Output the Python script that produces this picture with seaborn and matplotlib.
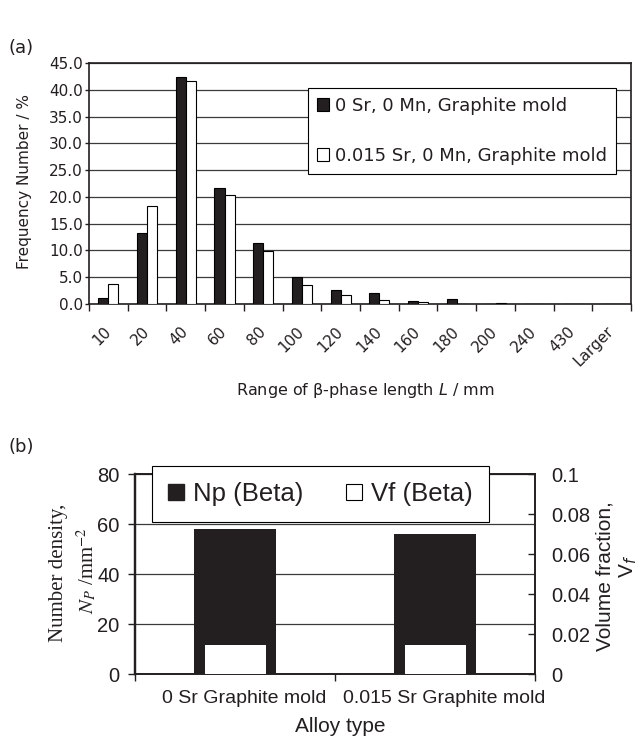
import matplotlib
matplotlib.use("Agg")
import matplotlib.pyplot as plt
import matplotlib.transforms as mtransforms
import numpy as np
import pandas as pd
import seaborn as sns
from matplotlib.patches import Patch


# (a) distribution of beta-phase length
RANGES = ["10", "20", "40", "60", "80", "100", "120", "140", "160", "180", "200", "240", "430", "Larger"]
FREQ_0SR = [1.1, 13.3, 42.4, 21.6, 11.4, 5.1, 2.6, 2.0, 0.5, 0.9, 0.0, 0.0, 0.0, 0.0]
FREQ_015SR = [3.8, 18.3, 41.7, 20.4, 9.9, 3.6, 1.7, 0.7, 0.4, 0.0, 0.2, 0.0, 0.0, 0.0]
SERIES = ["0 Sr, 0 Mn, Graphite mold", "0.015 Sr, 0 Mn, Graphite mold"]
FREQ_TICKS = [0, 5, 10, 15, 20, 25, 30, 35, 40, 45]

# (b) number density and volume fraction
ALLOYS = ["0 Sr Graphite mold", "0.015 Sr Graphite mold"]
NP_BETA = [58, 56]
VF_BETA = [0.0145, 0.0145]
NP_TICKS = [0, 20, 40, 60, 80]
VF_TICKS = [0, 0.02, 0.04, 0.06, 0.08, 0.1]
VF_LABELS = ["0", "0.02", "0.04", "0.06", "0.08", "0.1"]

BLACK = "#231f20"
GRID = "#3a3a3a"
ARIAL = "Liberation Sans"


def style_spines(ax, width=1.2):
    for side in ["left", "right", "top", "bottom"]:
        ax.spines[side].set_visible(True)
        ax.spines[side].set_color(BLACK)
        ax.spines[side].set_linewidth(width)


def main() -> None:
    sns.set_theme(style="white")
    plt.rcParams["font.family"] = ["DejaVu Sans"]
    plt.rcParams["text.color"] = BLACK
    plt.rcParams["axes.labelcolor"] = BLACK
    plt.rcParams["xtick.color"] = BLACK
    plt.rcParams["ytick.color"] = BLACK

    fig = plt.figure(figsize=(6.4, 7.4), dpi=100)
    ax_a = fig.add_axes([89 / 640, 1 - 304 / 740, 542 / 640, 241 / 740])
    ax_b = fig.add_axes([135 / 640, 1 - 674 / 740, 400 / 640, 200 / 740])

    # ---- panel (a)
    df_a = pd.DataFrame({
        "range": RANGES * 2,
        "freq": FREQ_0SR + FREQ_015SR,
        "series": [SERIES[0]] * len(RANGES) + [SERIES[1]] * len(RANGES),
    })
    palette = {SERIES[0]: BLACK, SERIES[1]: "white"}
    sns.barplot(
        data=df_a, x="range", y="freq", hue="series",
        order=RANGES, hue_order=SERIES, palette=palette,
        width=0.52, saturation=1, edgecolor="black", linewidth=0.8,
        legend=False, ax=ax_a, zorder=3,
    )
    ax_a.set_axisbelow(True)
    ax_a.set_xlim(-0.5, len(RANGES) - 0.5)
    ax_a.set_ylim(0, 45)
    ax_a.set_yticks(FREQ_TICKS, labels=[f"{v:.1f}" for v in FREQ_TICKS])
    ax_a.yaxis.grid(True, color=GRID, linewidth=0.9)
    ax_a.xaxis.grid(False)
    ax_a.set_xticks(np.arange(-0.5, len(RANGES)), labels=[])
    ax_a.set_xticks(np.arange(len(RANGES)), labels=RANGES, minor=True)
    ax_a.tick_params(axis="y", left=True, length=3, width=1, pad=1.5, labelsize=11)
    ax_a.tick_params(axis="x", which="major", bottom=True, length=5, width=1)
    ax_a.tick_params(axis="x", which="minor", bottom=True, length=0, pad=18, labelsize=11)
    for lbl in ax_a.get_xticklabels(minor=True):
        lbl.set_rotation(45)
        lbl.set_ha("right")
        lbl.set_va("center")
        lbl.set_rotation_mode("anchor")
    style_spines(ax_a)

    ax_a.set_ylabel("Frequency Number / %", fontsize=11)
    ax_a.yaxis.set_label_coords(-0.105, 0.51)
    ax_a.set_xlabel("Range of β-phase length $L$ / mm", fontsize=11.5)
    ax_a.xaxis.set_label_coords(0.509, -0.32)

    handles_a = [
        Patch(facecolor=BLACK, edgecolor="black", linewidth=0.8, label=SERIES[0]),
        Patch(facecolor="white", edgecolor="black", linewidth=0.8, label=SERIES[1]),
    ]
    leg_a = ax_a.legend(
        handles=handles_a, loc="upper right", bbox_to_anchor=(0.972, 0.896),
        borderaxespad=0, frameon=True, fancybox=False, edgecolor="black",
        framealpha=1, fontsize=13, handlelength=0.7, handleheight=0.7,
        handletextpad=0.3, labelspacing=1.75, borderpad=0.5,
    )
    leg_a.get_frame().set_linewidth(0.8)

    # ---- panel (b)
    sns.barplot(x=ALLOYS, y=NP_BETA, color=BLACK, width=0.41, saturation=1,
                linewidth=0, ax=ax_b, zorder=3)
    ax_b.set_axisbelow(True)
    ax_b.set_xlim(-0.5, 1.5)
    ax_b.set_ylim(0, 80)
    ax_b.set_yticks(NP_TICKS, labels=[str(v) for v in NP_TICKS], fontfamily=ARIAL)
    ax_b.yaxis.grid(True, color=GRID, linewidth=0.9)
    ax_b.xaxis.grid(False)
    ax_b.set_xticks([-0.5, 0.5, 1.5], labels=[])
    ax_b.set_xticks([0, 1], labels=ALLOYS, minor=True, fontfamily=ARIAL)
    ax_b.tick_params(axis="y", left=True, length=5, width=1, pad=6, labelsize=14.5)
    ax_b.tick_params(axis="x", which="major", bottom=True, length=5, width=1)
    ax_b.tick_params(axis="x", which="minor", bottom=True, length=0, pad=11.5, labelsize=14)
    shift = mtransforms.ScaledTranslation(9 / 100, 0, fig.dpi_scale_trans)
    for lbl in ax_b.get_xticklabels(minor=True):
        lbl.set_transform(lbl.get_transform() + shift)
    ax_b.set_xlabel("")
    ax_b.set_ylabel("")

    ax_v = ax_b.twinx()
    sns.barplot(x=ALLOYS, y=VF_BETA, color="white", width=0.305, saturation=1,
                linewidth=0, ax=ax_v, zorder=3)
    ax_v.set_xlim(-0.5, 1.5)
    ax_v.set_ylim(0, 0.1)
    ax_v.set_yticks(VF_TICKS, labels=VF_LABELS, fontfamily=ARIAL)
    ax_v.tick_params(axis="y", right=True, direction="in", length=5, width=1,
                     pad=12, labelsize=14.5)
    ax_v.grid(False)
    ax_v.set_ylabel("")
    style_spines(ax_b)
    style_spines(ax_v)
    ax_b.spines["left"].set_linewidth(1.6)
    ax_v.spines["left"].set_linewidth(1.6)

    handles_b = [
        Patch(facecolor=BLACK, edgecolor=BLACK, label="Np (Beta)"),
        Patch(facecolor="white", edgecolor="black", linewidth=0.8, label="Vf (Beta)"),
    ]
    leg_b = ax_v.legend(
        handles=handles_b, ncol=2, loc="upper left", bbox_to_anchor=(0.043, 1.04),
        borderaxespad=0, frameon=True, fancybox=False, edgecolor="black",
        framealpha=1, prop={"family": ARIAL, "size": 18.5},
        handlelength=0.62, handleheight=0.62, handletextpad=0.35,
        columnspacing=1.67, borderpad=0.62,
    )
    leg_b.get_frame().set_linewidth(0.8)

    # ---- free text
    fig.text(8 / 640, 1 - 48 / 740, "(a)", fontsize=13, ha="left", va="center")
    fig.text(8 / 640, 1 - 447 / 740, "(b)", fontsize=13, ha="left", va="center")
    fig.text(59 / 640, 1 - 573 / 740, "Number density,", rotation=90,
             ha="center", va="center", family="Liberation Serif", fontsize=15)
    fig.text(87 / 640, 1 - 571 / 740, r"$N_P$ /mm$^{-2}$", rotation=90,
             ha="center", va="center", family="Liberation Serif", fontsize=15,
             math_fontfamily="stix")
    fig.text(605 / 640, 1 - 576 / 740, "Volume fraction,", rotation=90,
             ha="center", va="center", family=ARIAL, fontsize=15)
    fig.text(628 / 640, 1 - 566 / 740, r"V$_f$", rotation=90,
             ha="center", va="center", family=ARIAL, fontsize=15)
    fig.text(340 / 640, 1 - 727 / 740, "Alloy type", ha="center", va="center",
             family=ARIAL, fontsize=15)

    fig.savefig("out.png", dpi=100)
    plt.close(fig)


if __name__ == "__main__":
    main()
